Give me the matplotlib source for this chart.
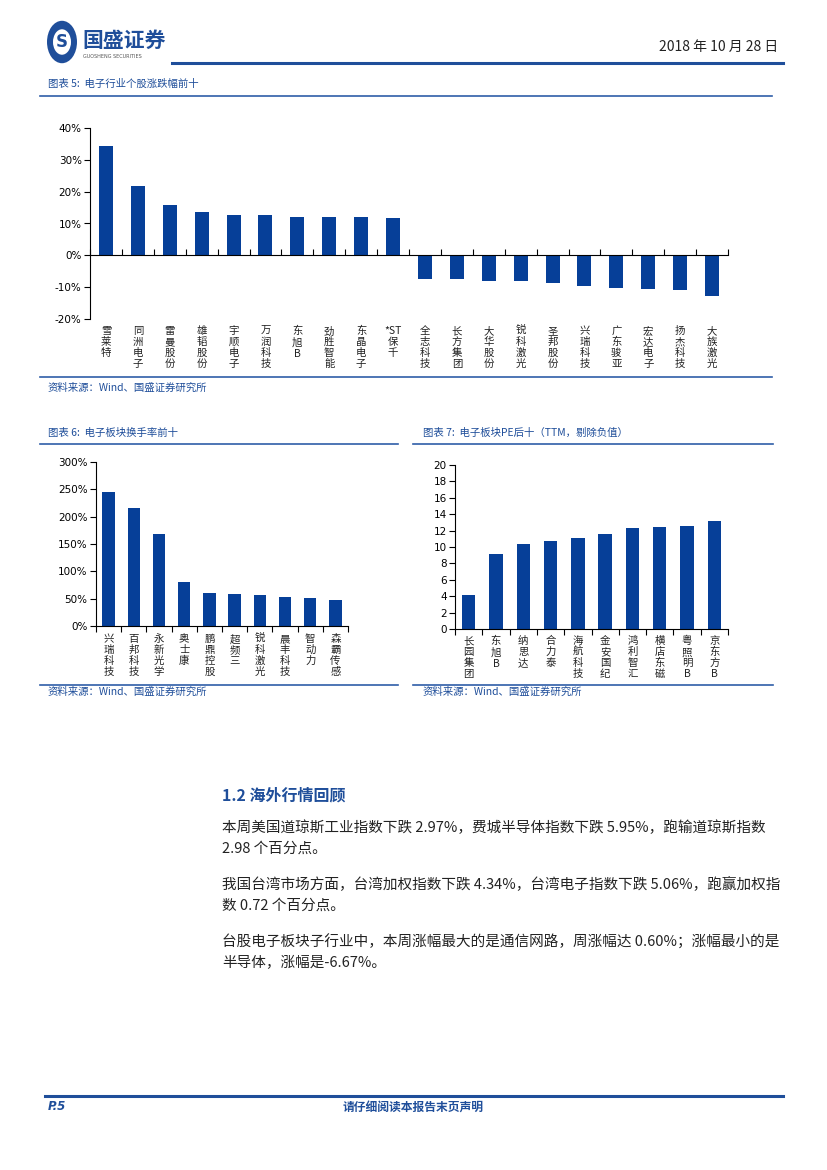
import matplotlib
matplotlib.use("Agg")
import matplotlib.pyplot as plt
import matplotlib.transforms as mtrans
from matplotlib.patches import Circle

plt.rcParams['font.family'] = ['Noto Sans CJK SC', 'DejaVu Sans']

# ---- data ----
gain_names = ["雪莱特", "同洲电子", "雷曼股份", "雄韬股份", "宇顺电子", "万润科技", "东旭B",
              "劲胜智能", "东晶电子", "*ST保千", "全志科技", "长方集团", "大华股份", "锐科激光",
              "圣邦股份", "兴瑞科技", "广东骏亚", "宏达电子", "扬杰科技", "大族激光"]
gain_values = [34.2, 21.9, 15.7, 13.7, 12.7, 12.7, 12.1, 12.1, 12.1, 11.8,
               -7.4, -7.4, -8.0, -8.0, -8.6, -9.6, -10.2, -10.6, -10.9, -12.8]

turnover_names = ["兴瑞科技", "百邦科技", "永新光学", "奥士康", "鹏鼎控股", "超频三",
                  "锐科激光", "晨丰科技", "智动力", "森霸传感"]
turnover_values = [246, 215, 169, 80, 60, 58, 56, 53, 51, 47]

pe_names = ["长园集团", "东旭B", "纳思达", "合力泰", "海航科技", "金安国纪", "鸿利智汇",
            "横店东磁", "粤照明B", "京东方B"]
pe_values = [4.15, 9.1, 10.35, 10.7, 11.1, 11.55, 12.3, 12.4, 12.5, 13.15]

W, H = 827, 1170
BAR = "#063f98"
LINE = "#2f5ea8"
TXT_BLUE = "#1f4e9a"

fig = plt.figure(figsize=(W / 100, H / 100), dpi=100)


def fx(x):
    return x / W


def fy(y):
    return 1 - y / H


def hline(x0, x1, y, lw=1.2, color=LINE):
    fig.add_artist(plt.Line2D([fx(x0), fx(x1)], [fy(y), fy(y)], color=color, lw=lw))


def vlabel(name):
    if name.startswith("*ST"):
        return "\n".join(["*ST"] + list(name[3:]))
    return "\n".join(list(name))


def bar_axes(rect_px, names, values, ylim, yticks, fmt, width, label_top, tick_dir):
    x0, y0, x1, y1 = rect_px
    ax = fig.add_axes([fx(x0), fy(y1), fx(x1) - fx(x0), (y1 - y0) / H])
    n = len(names)
    ax.bar(range(n), values, width=width, color=BAR, zorder=2)
    ax.set_xlim(-0.5, n - 0.5)
    ax.set_ylim(*ylim)
    ax.set_yticks(yticks)
    ax.set_yticklabels([fmt(v) for v in yticks], fontsize=7.5, family='DejaVu Sans')
    ax.set_xticks([i - 0.5 for i in range(n + 1)])
    ax.set_xticklabels([])
    ax.tick_params(axis='x', direction=tick_dir, length=4, width=0.8)
    ax.tick_params(axis='y', direction='out', length=4, width=0.8, pad=2)
    for s in ('top', 'right'):
        ax.spines[s].set_visible(False)
    ax.spines['left'].set_linewidth(0.8)
    ax.spines['bottom'].set_linewidth(0.8)
    ax.spines['bottom'].set_position(('data', 0))
    # category labels hang below the plot area, one character per line
    trans = mtrans.blended_transform_factory(ax.transData, fig.transFigure)
    for i, name in enumerate(names):
        ax.text(i, fy(label_top), vlabel(name), transform=trans,
                ha='center', va='top', fontsize=7.5, linespacing=1.12, color="#222222")
    return ax


# ---- header ----
fig.add_artist(Circle((fx(62), fy(42)), 15 / W, transform=fig.transFigure,
                      facecolor=TXT_BLUE, edgecolor='none'))
fig.add_artist(Circle((fx(62), fy(42)), 9 / W, transform=fig.transFigure,
                      facecolor='white', edgecolor='none'))
fig.text(fx(62), fy(42), "S", fontsize=12, fontweight='bold', color=TXT_BLUE,
         ha='center', va='center', family='DejaVu Sans')
fig.text(fx(82), fy(40), "国盛证券", fontsize=15, fontweight='bold', color=TXT_BLUE,
         ha='left', va='center')
fig.text(fx(83), fy(57), "GUOSHENG SECURITIES", fontsize=3.5, color="#555555",
         ha='left', va='center', family='DejaVu Sans')
fig.text(fx(778), fy(47), "2018 年 10 月 28 日", fontsize=10, ha='right', va='center',
         color="#222222")
hline(172, 783, 63, lw=2.2, color="#1f4e9a")

# ---- chart 5 ----
fig.text(fx(48), fy(84), "图表 5:  电子行业个股涨跌幅前十", fontsize=7.5, color=TXT_BLUE,
         ha='left', va='center', style='italic')
hline(40, 772, 96)
bar_axes((90, 128, 728, 319), gain_names, gain_values, (-20, 40),
         [-20, -10, 0, 10, 20, 30, 40], lambda v: f"{v}%", 0.44, 326, 'in')
hline(40, 772, 377)
fig.text(fx(48), fy(388), "资料来源：Wind、国盛证券研究所", fontsize=7.5, color=TXT_BLUE,
         ha='left', va='center', style='italic')

# ---- chart 6 ----
fig.text(fx(48), fy(433), "图表 6:  电子板块换手率前十", fontsize=7.5, color=TXT_BLUE,
         ha='left', va='center', style='italic')
hline(40, 398, 444)
bar_axes((96, 462, 348, 626), turnover_names, turnover_values, (0, 300),
         [0, 50, 100, 150, 200, 250, 300], lambda v: f"{v}%", 0.49, 634, 'out')
hline(40, 398, 685)
fig.text(fx(48), fy(692), "资料来源：Wind、国盛证券研究所", fontsize=7.5, color=TXT_BLUE,
         ha='left', va='center', style='italic')

# ---- chart 7 ----
fig.text(fx(423), fy(433), "图表 7:  电子板块PE后十（TTM，剔除负值）", fontsize=7.5,
         color=TXT_BLUE, ha='left', va='center', style='italic')
hline(413, 773, 444)
bar_axes((455, 465, 728, 629), pe_names, pe_values, (0, 20),
         list(range(0, 21, 2)), lambda v: f"{v}", 0.49, 636, 'out')
hline(413, 773, 685)
fig.text(fx(423), fy(692), "资料来源：Wind、国盛证券研究所", fontsize=7.5, color=TXT_BLUE,
         ha='left', va='center', style='italic')

# ---- text section ----
fig.text(fx(222), fy(795), "1.2 海外行情回顾", fontsize=11.5, fontweight='bold',
         color=TXT_BLUE, ha='left', va='center')
body = [
    (828, "本周美国道琼斯工业指数下跌 2.97%，费城半导体指数下跌 5.95%，跑输道琼斯指数"),
    (849, "2.98 个百分点。"),
    (885, "我国台湾市场方面，台湾加权指数下跌 4.34%，台湾电子指数下跌 5.06%，跑赢加权指"),
    (906, "数 0.72 个百分点。"),
    (942, "台股电子板块子行业中，本周涨幅最大的是通信网路，周涨幅达 0.60%；涨幅最小的是"),
    (963, "半导体，涨幅是-6.67%。"),
]
for y, line in body:
    fig.text(fx(222), fy(y), line, fontsize=10.5, color="#222222", ha='left', va='center')

# ---- footer ----
hline(45, 783, 1096, lw=2.2, color="#1f4e9a")
fig.text(fx(48), fy(1107), "P.5", fontsize=8.5, fontweight='bold', style='italic',
         color=TXT_BLUE, ha='left', va='center', family='DejaVu Sans')
fig.text(fx(413), fy(1107), "请仔细阅读本报告末页声明", fontsize=8.5, fontweight='bold',
         color=TXT_BLUE, ha='center', va='center')

fig.savefig("out.png", dpi=100)
